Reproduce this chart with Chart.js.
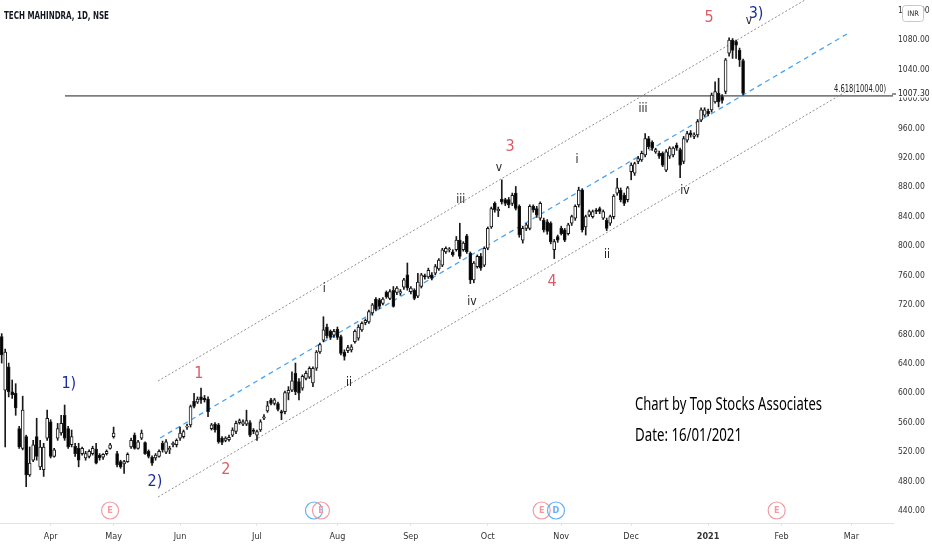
<!DOCTYPE html>
<html lang="en">
  <head>
    <meta charset="UTF-8" />
    <meta name="viewport" content="width=device-width, initial-scale=1.0" />
    <title>TECH MAHINDRA, 1D, NSE</title>
    <script src="https://cdn.jsdelivr.net/npm/chart.js"></script>
    <style>
      html, body { margin: 0; padding: 0; background: #fff; }
      #wrap { position: relative; width: 932px; height: 550px; }
    </style>
  </head>
  <body>
    <div id="wrap"><canvas id="priceChart"></canvas></div>
    <script>
      // daily candles, 12 Mar 2020 -> 15 Jan 2021 (x = trading-day index)
      const opens = [
        677, 604, 636, 602, 600, 552, 525, 541, 489, 509,
        541, 500, 496, 539, 561, 514, 539, 546, 570, 552,
        530, 528, 525, 518, 512, 514, 518, 524, 516, 513,
        518, 525, 541, 518, 507, 504, 507, 527, 543, 525,
        539, 533, 521, 513, 512, 514, 532, 520, 523, 530,
        530, 539, 541, 554, 557, 589, 588, 595, 593, 592,
        552, 558, 557, 539, 536, 537, 543, 548, 560, 558,
        558, 560, 550, 543, 550, 566, 576, 591, 586, 586,
        575, 575, 600, 604, 627, 616, 607, 620, 622, 614,
        634, 656, 672, 690, 684, 679, 687, 677, 656, 658,
        659, 670, 675, 686, 696, 697, 709, 728, 727, 722,
        737, 729, 740, 737, 736, 744, 761, 738, 740, 732,
        745, 760, 758, 761, 763, 769, 774, 792, 795, 792,
        795, 808, 795, 814, 790, 754, 772, 786, 774, 797,
        826, 858, 848, 864, 863, 863, 858, 872, 854, 808,
        824, 824, 854, 851, 838, 835, 833, 831, 795, 813,
        824, 822, 817, 831, 838, 856, 876, 826, 842, 840,
        849, 851, 838, 835, 831, 840, 872, 876, 869, 863,
        901, 899, 915, 917, 924, 946, 941, 928, 926, 926,
        903, 922, 924, 937, 931, 915, 944, 954, 949, 951,
        971, 978, 983, 985, 996, 1008, 1003, 1010, 1062, 1080,
        1078, 1066, 1052
      ];
      const highs = [
        681, 660, 641, 618, 613, 555, 596, 543, 527, 536,
        566, 536, 532, 577, 564, 525, 559, 570, 584, 555,
        550, 532, 532, 527, 521, 523, 528, 532, 518, 518,
        523, 532, 554, 521, 509, 509, 519, 539, 546, 536,
        550, 534, 523, 515, 518, 523, 535, 537, 528, 534,
        538, 554, 550, 558, 584, 600, 595, 607, 597, 595,
        559, 560, 559, 541, 541, 543, 553, 562, 565, 564,
        577, 563, 552, 550, 564, 571, 589, 593, 593, 588,
        577, 603, 609, 629, 641, 620, 625, 630, 636, 636,
        658, 668, 704, 694, 686, 687, 690, 679, 659, 665,
        666, 686, 693, 697, 701, 713, 722, 730, 729, 730,
        739, 741, 745, 745, 741, 756, 777, 745, 742, 763,
        763, 762, 770, 764, 775, 783, 797, 799, 798, 795,
        813, 831, 806, 816, 792, 779, 788, 790, 799, 826,
        853, 860, 853, 890, 865, 866, 872, 881, 856, 827,
        831, 856, 856, 854, 860, 838, 836, 833, 809, 815,
        827, 824, 831, 842, 856, 880, 878, 842, 849, 849,
        851, 853, 849, 838, 842, 870, 892, 879, 872, 881,
        913, 914, 922, 929, 953, 949, 943, 933, 929, 928,
        931, 935, 935, 940, 933, 949, 956, 957, 954, 972,
        988, 988, 986, 1008, 1023, 1028, 1006, 1055, 1083, 1082,
        1080, 1069, 1054
      ];
      const lows = [
        641, 527, 595, 593, 570, 525, 523, 473, 487, 507,
        509, 496, 487, 536, 512, 513, 536, 543, 536, 525,
        527, 514, 500, 516, 509, 512, 516, 504, 509, 510,
        516, 524, 539, 500, 498, 491, 506, 525, 524, 524,
        537, 517, 512, 502, 509, 513, 520, 518, 518, 527,
        527, 536, 539, 551, 554, 580, 586, 586, 588, 568,
        550, 547, 532, 530, 534, 535, 541, 545, 558, 556,
        556, 541, 545, 536, 548, 564, 574, 584, 584, 576,
        564, 572, 591, 602, 598, 591, 604, 618, 620, 609,
        631, 654, 670, 675, 673, 676, 673, 652, 645, 655,
        656, 668, 672, 684, 693, 695, 706, 712, 715, 720,
        729, 727, 717, 734, 733, 741, 740, 735, 727, 730,
        743, 755, 756, 754, 761, 767, 772, 790, 792, 786,
        793, 783, 793, 790, 749, 750, 770, 767, 772, 795,
        824, 846, 840, 857, 855, 852, 855, 849, 812, 804,
        821, 822, 846, 839, 835, 819, 816, 803, 783, 805,
        815, 806, 815, 828, 835, 853, 819, 815, 840, 838,
        844, 844, 836, 821, 828, 837, 869, 860, 855, 860,
        890, 896, 912, 915, 921, 932, 930, 926, 919, 908,
        901, 919, 921, 930, 893, 912, 941, 948, 946, 948,
        969, 976, 977, 982, 994, 989, 994, 1007, 1058, 1055,
        1055, 1044, 1005
      ];
      const closes = [
        652, 656, 602, 598, 580, 527, 577, 489, 505, 530,
        514, 527, 527, 566, 514, 523, 552, 559, 539, 527,
        541, 518, 509, 525, 518, 521, 525, 505, 512, 517,
        521, 530, 546, 503, 500, 507, 517, 536, 525, 534,
        546, 518, 514, 505, 516, 521, 523, 534, 525, 532,
        536, 546, 548, 555, 582, 582, 592, 591, 591, 575,
        557, 550, 534, 533, 539, 540, 550, 559, 563, 561,
        563, 543, 548, 548, 561, 568, 583, 586, 591, 578,
        573, 601, 604, 617, 602, 600, 623, 627, 634, 634,
        656, 666, 686, 678, 676, 684, 676, 654, 650, 662,
        663, 684, 690, 695, 699, 711, 720, 714, 718, 728,
        731, 738, 718, 743, 738, 754, 743, 743, 729, 751,
        761, 758, 767, 756, 772, 781, 795, 797, 796, 788,
        808, 786, 804, 792, 754, 777, 786, 770, 797, 824,
        851, 849, 850, 860, 858, 856, 869, 851, 815, 824,
        829, 854, 849, 842, 858, 822, 820, 806, 806, 808,
        817, 808, 829, 840, 854, 876, 822, 840, 847, 847,
        847, 847, 847, 824, 840, 868, 879, 863, 858, 879,
        910, 912, 919, 926, 946, 935, 933, 931, 922, 910,
        928, 933, 933, 933, 910, 946, 953, 951, 951, 969,
        985, 985, 980, 1005, 1010, 996, 998, 1053, 1080, 1066,
        1073, 1053, 1007.3
      ];

      // first trading day of each month (bar index) and its label
      const monthBars = [14, 32, 51, 73, 96, 117, 139, 160, 180, 202, 223, 243];
      const monthNames = ["Apr", "May", "Jun", "Jul", "Aug", "Sep", "Oct", "Nov", "Dec", "2021", "Feb", "Mar"];
      const priceTicks = [440, 480, 520, 560, 600, 640, 680, 720, 760, 800, 840, 880, 920, 960, 1000, 1040, 1080, 1120];
      const lastPrice = 1007.3;
      const fibLevel = 1004;
      const fibStartBar = 18.1;

      // channel drawn on the chart, [bar, price] at both ends
      const channelUpper = [[44.7, 616.6], [241.5, 1167.4]];
      const channelMiddle = [[45.3, 539.2], [241.7, 1088.2]];
      const channelLower = [[44.7, 459.0], [241.2, 1009.3]];

      // elliott wave counts: text, bar, price, degree
      const waveLabels = [
        ["1)", 19.2, 612.5, "major"], ["2)", 43.8, 479.4, "major"], ["3)", 215.7, 1115.3, "major"],
        ["1", 56.4, 626.1, "minor"], ["2", 64.1, 495.7, "minor"], ["3", 145.4, 934.6, "minor"],
        ["4", 157.4, 751.1, "minor"], ["5", 202.3, 1109.9, "minor"],
        ["i", 92.2, 741.6, "sub"], ["ii", 99.3, 613.9, "sub"], ["iii", 131.3, 862.6, "sub"],
        ["iv", 134.5, 724.0, "sub"], ["v", 142.2, 906.1, "sub"], ["i", 164.5, 916.9, "sub"],
        ["ii", 173.1, 787.8, "sub"], ["iii", 183.4, 986.2, "sub"], ["iv", 195.4, 874.8, "sub"],
        ["v", 213.7, 1105.8, "sub"]
      ];
      // earnings / dividend events (bar index)
      const eventBars = [31, 89.3, 91.3, 154.4, 158.5, 221.6];
      const eventKinds = ["E", "", "E", "E", "D", "E"];

      const narrow = "'DejaVu Sans Condensed', 'Liberation Sans', sans-serif";
      const waveStyle = {
        major: { color: "#1b2f9e", font: "16px " + narrow },
        minor: { color: "#dc5c66", font: "16px " + narrow },
        sub: { color: "#222222", font: "12px " + narrow }
      };

      const xMin = -0.486, xMax = 254.87;
      const yMin = 423.67, yMax = 1134.36;

      const wicks = opens.map((o, i) => ({ x: i, y: [lows[i], highs[i]] }));
      const bodies = opens.map((o, i) => ({ x: i, y: [o, closes[i]] }));
      const bodyColors = opens.map((o, i) => (closes[i] >= o ? "#ffffff" : "#000000"));
      const toPoints = (arr) => arr.map(([x, y]) => ({ x: x, y: y }));

      function fitText(ctx, text, left, baseline, width, font, color) {
        ctx.save();
        ctx.font = font;
        ctx.fillStyle = color;
        ctx.textAlign = "left";
        ctx.textBaseline = "alphabetic";
        const w = ctx.measureText(text).width;
        ctx.translate(left, baseline);
        ctx.scale(width / w, 1);
        ctx.fillText(text, 0, 0);
        ctx.restore();
      }

      const overlay = {
        id: "overlay",
        afterDraw(chart) {
          const { ctx, chartArea, scales } = chart;
          const x = scales.x, y = scales.y;
          ctx.save();

          fitText(ctx, "TECH MAHINDRA, 1D, NSE", 4, 18.5, 105, "bold 10px " + narrow, "#131722");

          ctx.textAlign = "center";
          ctx.textBaseline = "middle";
          waveLabels.forEach(([t, bar, price, kind]) => {
            ctx.font = waveStyle[kind].font;
            ctx.fillStyle = waveStyle[kind].color;
            ctx.fillText(t, x.getPixelForValue(bar), y.getPixelForValue(price));
          });

          // events along the bottom
          const ey = chartArea.bottom - 12.5;
          eventBars.forEach((bar, k) => {
            const ex = x.getPixelForValue(bar);
            const col = eventKinds[k] === "E" ? "#f29aa2" : "#62b0f2";
            ctx.beginPath();
            ctx.arc(ex, ey, 8.5, 0, Math.PI * 2);
            ctx.strokeStyle = col;
            ctx.lineWidth = 1.2;
            ctx.stroke();
            if (eventKinds[k]) {
              ctx.font = "bold 9px " + narrow;
              ctx.fillStyle = col;
              ctx.fillText(eventKinds[k], ex, ey + 0.5);
            }
          });

          // fib level text
          const fy = y.getPixelForValue(fibLevel);
          fitText(ctx, "4.618(1004.00)", 834, fy - 3.5, 52, "10px " + narrow, "#222");

          fitText(ctx, "Chart by Top Stocks Associates", 635, 410, 187, "18px 'Noto Sans', sans-serif", "#000");
          fitText(ctx, "Date: 16/01/2021", 635, 440.5, 107, "18px 'Noto Sans', sans-serif", "#000");

          // last price on the scale
          const py = y.getPixelForValue(lastPrice);
          ctx.fillStyle = "#ffffff";
          ctx.fillRect(chartArea.right + 1, py - 6, 39, 10);
          ctx.strokeStyle = "#222";
          ctx.lineWidth = 1;
          ctx.beginPath();
          ctx.moveTo(chartArea.right - 1, py + 0.5);
          ctx.lineTo(chartArea.right + 3, py + 0.5);
          ctx.stroke();
          ctx.font = "8.5px " + narrow;
          ctx.fillStyle = "#222";
          ctx.textAlign = "left";
          ctx.fillText(lastPrice.toFixed(2), chartArea.right + 5, py);

          // currency box
          ctx.beginPath();
          ctx.roundRect(902.5, 5.5, 21, 16, 3);
          ctx.fillStyle = "#ffffff";
          ctx.fill();
          ctx.strokeStyle = "#c8c8c8";
          ctx.stroke();
          ctx.font = "7.5px " + narrow;
          ctx.fillStyle = "#333";
          ctx.textAlign = "center";
          ctx.fillText("INR", 913, 14);

          ctx.restore();
        }
      };

      new Chart(document.getElementById("priceChart"), {
        type: "bar",
        data: {
          datasets: [
            {
              label: "body",
              data: bodies,
              backgroundColor: bodyColors,
              borderColor: "#1a1a1a",
              borderWidth: 1,
              borderSkipped: false,
              barThickness: 3,
              minBarLength: 1,
              grouped: false,
              order: 0
            },
            {
              label: "wick",
              data: wicks,
              backgroundColor: "#1a1a1a",
              barThickness: 1,
              grouped: false,
              order: 1
            },
            {
              type: "line",
              label: "upper",
              data: toPoints(channelUpper),
              borderColor: "#8f8f8f",
              borderWidth: 1,
              borderDash: [2, 2],
              pointRadius: 0,
              order: 2
            },
            {
              type: "line",
              label: "middle",
              data: toPoints(channelMiddle),
              borderColor: "#4aa3ef",
              borderWidth: 1.3,
              borderDash: [5, 4],
              pointRadius: 0,
              order: 2
            },
            {
              type: "line",
              label: "lower",
              data: toPoints(channelLower),
              borderColor: "#8f8f8f",
              borderWidth: 1,
              borderDash: [2, 2],
              pointRadius: 0,
              order: 2
            },
            {
              type: "line",
              label: "fib",
              data: [{ x: fibStartBar, y: fibLevel }, { x: xMax, y: fibLevel }],
              borderColor: "#1f1f1f",
              borderWidth: 1,
              pointRadius: 0,
              order: 2
            }
          ]
        },
        options: {
          responsive: true,
          maintainAspectRatio: false,
          animation: false,
          events: [],
          layout: { padding: 0, autoPadding: false },
          plugins: {
            legend: { display: false },
            tooltip: { enabled: false }
          },
          scales: {
            x: {
              type: "linear",
              min: xMin,
              max: xMax,
              offset: false,
              afterBuildTicks: (axis) => {
                axis.ticks = monthBars.map((v) => ({ value: v }));
              },
              afterFit: (axis) => {
                axis.height = 27;
                axis.paddingLeft = 0;
                axis.paddingRight = 0;
              },
              grid: {
                display: true,
                drawOnChartArea: false,
                drawTicks: true,
                tickLength: 3,
                color: "#e3e3e3",
                offset: false
              },
              border: { display: true, color: "#e3e3e3" },
              ticks: {
                autoSkip: false,
                maxRotation: 0,
                padding: 5,
                color: "#333",
                font: (c) => ({
                  family: narrow,
                  size: 9,
                  weight: c.tick && c.tick.value === 202 ? "bold" : "normal"
                }),
                callback: (v) => monthNames[monthBars.indexOf(v)]
              }
            },
            y: {
              position: "right",
              min: yMin,
              max: yMax,
              afterBuildTicks: (axis) => {
                axis.ticks = priceTicks.map((v) => ({ value: v }));
              },
              afterFit: (axis) => {
                axis.width = 39;
                axis.paddingTop = 0;
                axis.paddingBottom = 0;
              },
              grid: { display: false, drawTicks: false },
              border: { display: false },
              ticks: {
                padding: 5,
                color: "#333",
                font: { family: narrow, size: 8.5 },
                callback: (v) => v.toFixed(2)
              }
            }
          }
        },
        plugins: [overlay]
      });
    </script>
  </body>
</html>
